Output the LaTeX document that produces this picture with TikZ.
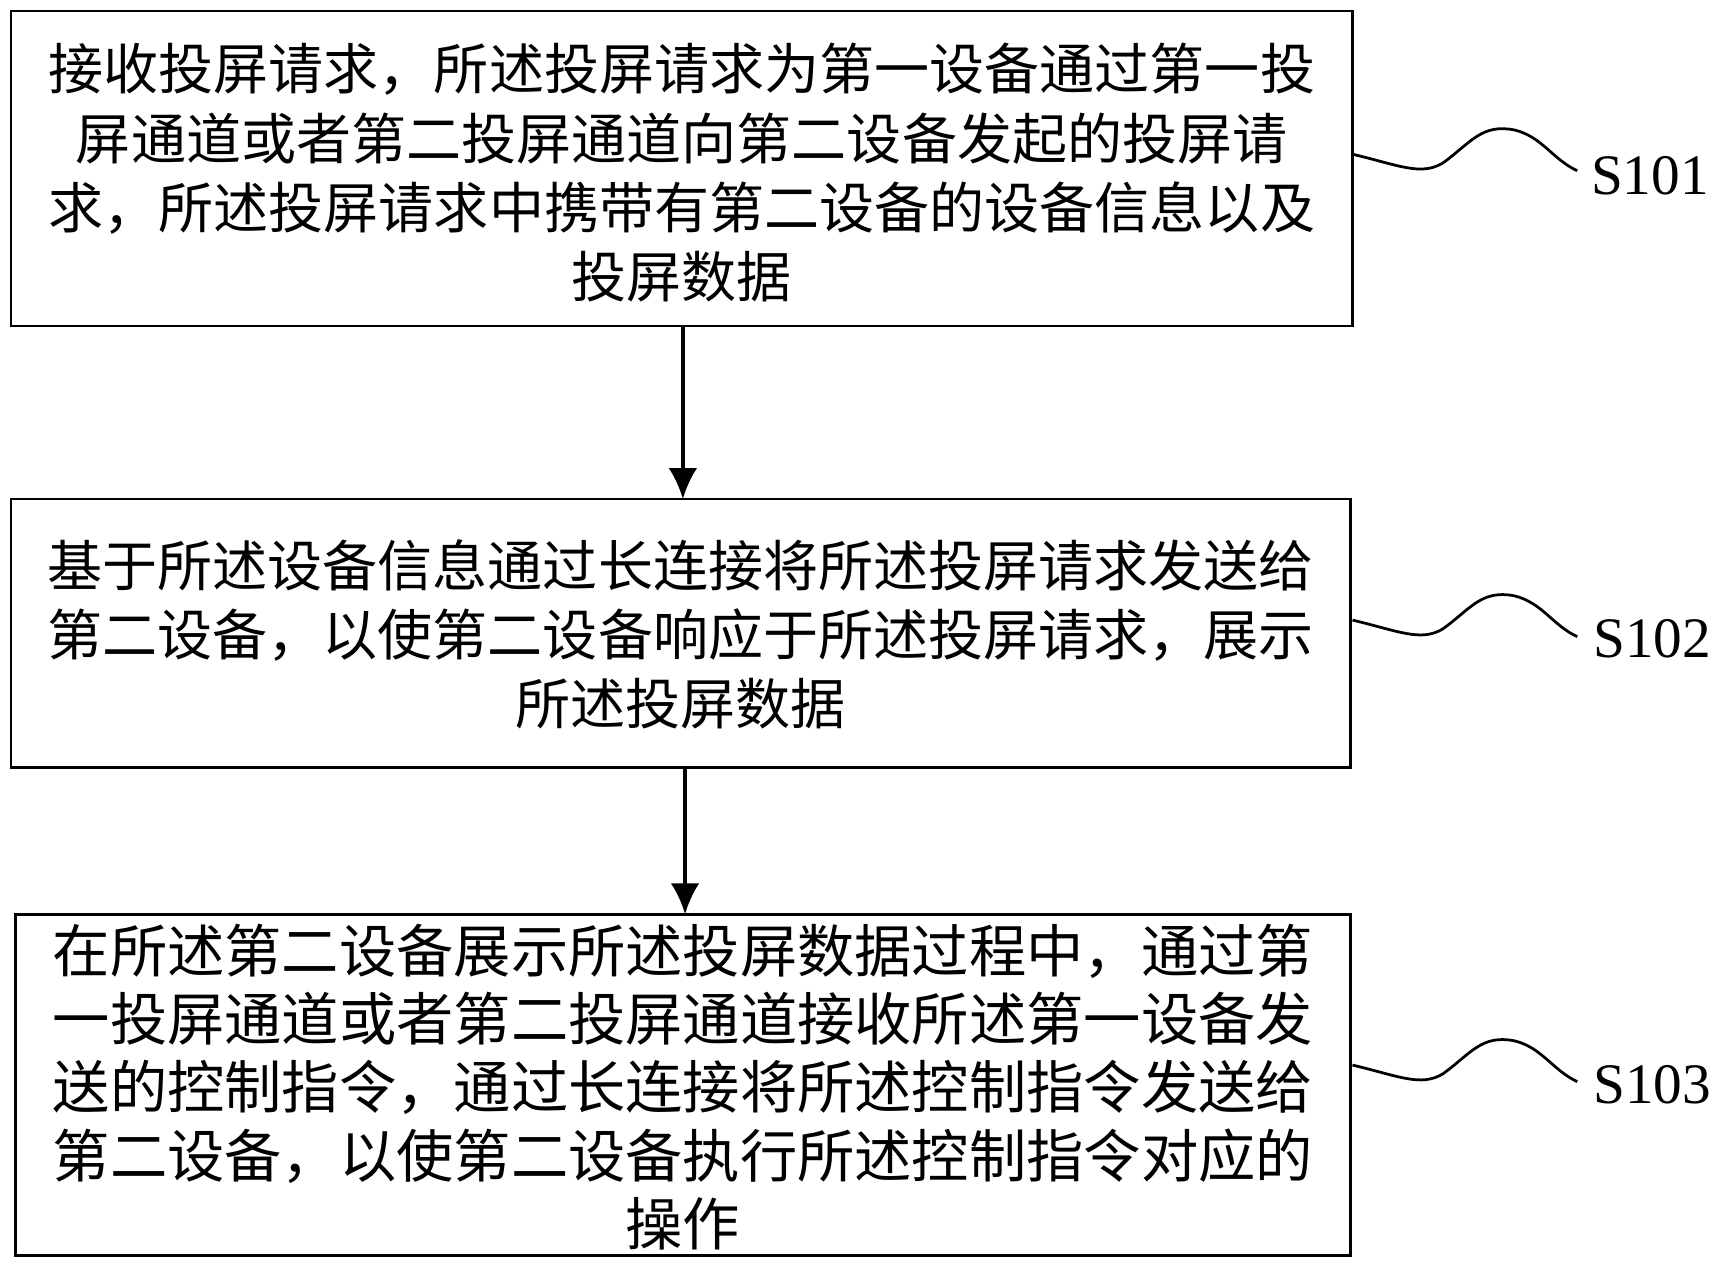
\documentclass[tikz,border=0pt]{standalone}
\usepackage{fontspec}
\newfontfamily\cjk{Noto Sans CJK SC}
\newfontfamily\lab{Liberation Serif}
\begin{document}
\begin{tikzpicture}[x=1pt,y=-1pt,
  stepbox/.style={draw,line width=2.5pt},
  txt/.style={font=\cjk\fontsize{50}{63}\selectfont,align=center,inner sep=0},
  txtb/.style={font=\cjk\fontsize{52}{62}\selectfont,align=center,inner sep=0},
  labl/.style={font=\lab\fontsize{52}{52}\selectfont,inner sep=0},
  conn/.style={line width=3pt,-{Latex[length=28pt,width=26pt]}},
  wave/.style={line width=2.5pt}]
\usetikzlibrary{arrows.meta}
\useasboundingbox (0,0) rectangle (1568,1151);
\draw[stepbox] (10,10) rectangle (1228,296);
\draw[stepbox] (10,453) rectangle (1226,697);
\draw[stepbox] (14,830) rectangle (1226,1140);
\coordinate (b1) at (620,296); \coordinate (t2) at (620,453);
\coordinate (b2) at (622,697); \coordinate (t3) at (622,830);
\node[txt] (x1) at (619,157) {接收投屏请求，所述投屏请求为第一设备通过第一投\\屏通道或者第二投屏通道向第二设备发起的投屏请\\求，所述投屏请求中携带有第二设备的设备信息以及\\投屏数据};
\node[txt] (x2) at (618,576) {基于所述设备信息通过长连接将所述投屏请求发送给\\第二设备，以使第二设备响应于所述投屏请求，展示\\所述投屏数据};
\node[txtb] (x3) at (620,987) {在所述第二设备展示所述投屏数据过程中，通过第\\一投屏通道或者第二投屏通道接收所述第一设备发\\送的控制指令，通过长连接将所述控制指令发送给\\第二设备，以使第二设备执行所述控制指令对应的\\操作};
\draw[conn] (b1) -- (t2);
\draw[conn] (b2) -- (t3);
\node[labl] (s1) at (1498,160) {S101};
\node[labl] (s2) at (1500,580) {S102};
\node[labl] (s3) at (1500,985) {S103};
\foreach \y/\n in {140/1,563/2,967/3}{
  \coordinate (a\n) at (1228,\y);
  \coordinate (e\n) at (1432,\y+15);
  \draw[wave] (a\n) .. controls (1270,\y+10) and (1290,\y+20) .. (1310,\y+8)
     .. controls (1335,\y-10) and (1345,\y-28) .. (1375,\y-22)
     .. controls (1400,\y-16) and (1410,\y+5) .. (e\n);
}
\end{tikzpicture}
\end{document}
